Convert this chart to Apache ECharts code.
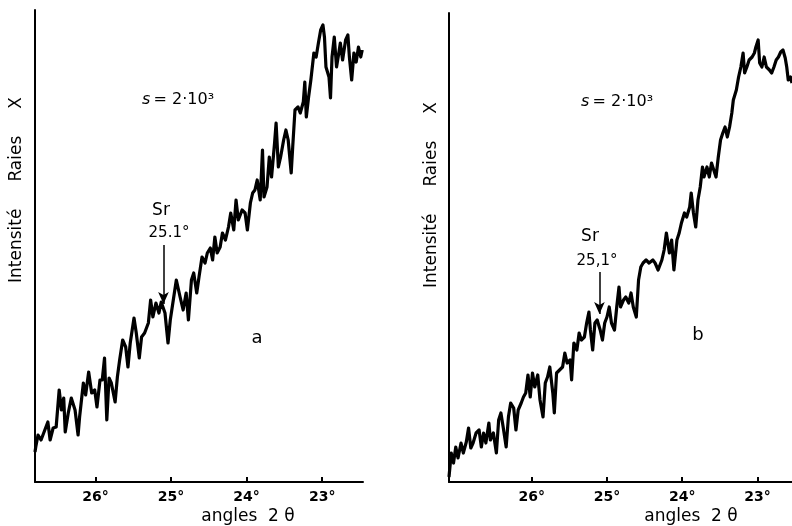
<!DOCTYPE html>
<html><head><meta charset="utf-8">
<script src="https://cdn.jsdelivr.net/npm/echarts@6/dist/echarts.min.js"></script>
<style>html,body{margin:0;padding:0;background:#fff}#c{width:792px;height:526px}</style>
</head><body><div id="c"></div>
<script>
// Panel a: angle 2θ (degrees) and intensity (arbitrary units)
const degA = [26.80,26.79,26.76,26.72,26.67,26.63,26.60,26.56,26.52,26.48,26.45,26.42,26.40,26.36,26.32,26.27,26.23,26.21,26.16,26.13,26.09,26.05,26.01,25.98,25.94,25.91,25.88,25.85,25.82,25.79,25.74,25.71,25.68,25.64,25.60,25.57,25.54,25.49,25.46,25.42,25.39,25.35,25.30,25.27,25.24,25.20,25.16,25.13,25.08,25.04,25.01,24.97,24.93,24.88,24.84,24.80,24.77,24.73,24.70,24.66,24.63,24.59,24.55,24.52,24.48,24.45,24.42,24.39,24.35,24.32,24.28,24.24,24.21,24.17,24.14,24.11,24.06,24.02,23.99,23.95,23.92,23.89,23.86,23.82,23.79,23.77,23.73,23.70,23.67,23.63,23.61,23.58,23.55,23.51,23.48,23.45,23.41,23.39,23.36,23.32,23.29,23.25,23.23,23.21,23.18,23.15,23.11,23.08,23.05,23.02,22.99,22.97,22.95,22.91,22.89,22.87,22.84,22.81,22.78,22.76,22.73,22.69,22.66,22.64,22.61,22.58,22.55,22.52,22.49,22.47];
const intA = [30,35,47,42,52,60,42,54,55,92,72,84,50,69,84,72,47,65,99,87,110,89,92,75,102,102,124,62,104,99,80,105,122,142,135,115,139,164,149,124,145,149,159,182,165,179,169,180,169,139,162,182,202,185,172,189,162,202,209,189,205,225,219,229,234,222,245,229,235,249,242,255,269,252,282,262,272,269,252,279,289,292,302,282,332,285,295,325,305,339,359,315,325,342,352,342,309,335,372,375,369,380,400,365,385,402,429,425,439,452,457,445,415,405,384,425,445,415,429,439,422,442,447,425,402,429,420,435,425,432];
// Panel b
const degB = [27.10,27.07,27.04,27.01,26.98,26.94,26.91,26.87,26.84,26.81,26.78,26.74,26.70,26.67,26.64,26.61,26.57,26.55,26.51,26.47,26.44,26.41,26.38,26.34,26.31,26.28,26.24,26.21,26.18,26.14,26.11,26.08,26.05,26.02,25.99,25.96,25.92,25.89,25.85,25.82,25.79,25.76,25.72,25.70,25.67,25.63,25.59,25.56,25.53,25.49,25.47,25.44,25.40,25.37,25.34,25.30,25.27,25.24,25.22,25.19,25.16,25.13,25.09,25.06,25.03,25.00,24.97,24.94,24.90,24.87,24.84,24.82,24.78,24.75,24.71,24.68,24.65,24.61,24.58,24.55,24.52,24.48,24.44,24.39,24.36,24.32,24.27,24.24,24.21,24.17,24.14,24.11,24.07,24.04,24.01,23.97,23.94,23.90,23.88,23.85,23.82,23.79,23.76,23.73,23.71,23.67,23.64,23.61,23.58,23.55,23.52,23.49,23.46,23.43,23.40,23.37,23.34,23.32,23.28,23.25,23.22,23.19,23.17,23.14,23.11,23.07,23.04,23.02,22.99,22.97,22.94,22.91,22.88,22.84,22.81,22.78,22.75,22.72,22.69,22.66,22.63,22.61,22.59,22.56,22.54];
const intB = [5,29,19,35,24,39,29,40,54,34,39,49,52,35,49,39,59,42,49,29,62,69,55,35,65,79,74,52,72,79,85,89,107,85,109,95,107,82,65,99,105,115,89,69,109,112,115,129,119,122,102,139,132,149,142,145,159,170,152,132,159,162,152,142,159,165,175,159,152,175,195,175,182,185,179,189,175,165,202,215,219,222,219,222,219,212,222,232,249,229,242,212,242,249,259,269,265,275,289,269,255,282,295,315,305,315,305,319,312,305,325,342,349,355,345,355,369,382,392,405,415,429,409,415,422,425,429,435,442,419,415,425,415,412,409,415,422,425,430,432,424,415,402,405,399];
const tickVals = [23,24,25,26];
const arrowDeg = 25.1;

const chart = echarts.init(document.getElementById('c'), null, {renderer:'canvas'});
const zip = (a,b) => a.map((v,i)=>[v,b[i]]);
const ff = 'DejaVu Sans';
function xAxis(idx, min, max){
  return {gridIndex: idx, type:'value', inverse:true, min:min, max:max,
    axisLine:{show:true, lineStyle:{color:'#000', width:2}},
    axisTick:{show:true, inside:true, length:5, customValues:tickVals, lineStyle:{color:'#000', width:2}},
    axisLabel:{customValues:tickVals, formatter:v=>v+'°', color:'#000', fontFamily:ff, fontWeight:'bold', fontSize:14, margin:8},
    splitLine:{show:false}};
}
function yAxis(idx, max){
  return {gridIndex: idx, type:'value', min:0, max:max,
    axisLine:{show:true, lineStyle:{color:'#000', width:2}},
    axisTick:{show:false}, axisLabel:{show:false}, splitLine:{show:false}};
}
function series(idx, data, top, bottom){
  return {type:'line', xAxisIndex:idx, yAxisIndex:idx, data:data, showSymbol:false,
    lineStyle:{color:'#000', width:3.2, join:'round'}, animation:false,
    markLine:{silent:true, symbol:['none','arrow'], symbolSize:[8,12],
      lineStyle:{color:'#000', width:1.5, type:'solid'}, label:{show:false},
      data:[[{coord:[arrowDeg, top]},{coord:[arrowDeg, bottom]}]]}};
}
const txt = (x,y,t,o) => Object.assign({type:'text', x:x, y:y, style:Object.assign({text:t, fill:'#000', font:'17px "DejaVu Sans"', textAlign:'center', textVerticalAlign:'middle'}, o||{})});
const sRich = {it:{fontStyle:'italic', fontSize:16, fontFamily:ff, fill:'#000'}, n:{fontSize:16, fontFamily:ff, fill:'#000'}};
chart.setOption({
  animation:false,
  grid:[{left:35, right:429, top:10, bottom:44},{left:449, right:0, top:13, bottom:44}],
  xAxis:[xAxis(0,22.46,26.8), xAxis(1,22.54,27.1)],
  yAxis:[yAxis(0,472), yAxis(1,469)],
  series:[series(0, zip(degA,intA), 237, 178), series(1, zip(degB,intB), 210, 168)],
  graphic:[
    {type:'text', x:17, y:190, rotation:Math.PI/2, style:{text:'Intensité     Raies     X', fill:'#000', font:'17px "DejaVu Sans"', textAlign:'center', textVerticalAlign:'middle'}},
    {type:'text', x:432, y:195, rotation:Math.PI/2, style:{text:'Intensité     Raies     X', fill:'#000', font:'17px "DejaVu Sans"', textAlign:'center', textVerticalAlign:'middle'}},
    txt(248,517,'angles  2 θ'), txt(691,517,'angles  2 θ'),
    {type:'text', x:178, y:100, style:{text:'{it|s} {n|= 2·10³}', rich:sRich, textAlign:'center', textVerticalAlign:'middle'}},
    {type:'text', x:617, y:102, style:{text:'{it|s} {n|= 2·10³}', rich:sRich, textAlign:'center', textVerticalAlign:'middle'}},
    txt(161,211,'Sr'), txt(169,233,'25.1°', {font:'15px "DejaVu Sans"'}),
    txt(590,237,'Sr'), txt(597,261,'25,1°', {font:'15px "DejaVu Sans"'}),
    txt(257,338,'a', {font:'18px "DejaVu Sans"'}), txt(698,335,'b', {font:'18px "DejaVu Sans"'})
  ]
});
</script></body></html>
